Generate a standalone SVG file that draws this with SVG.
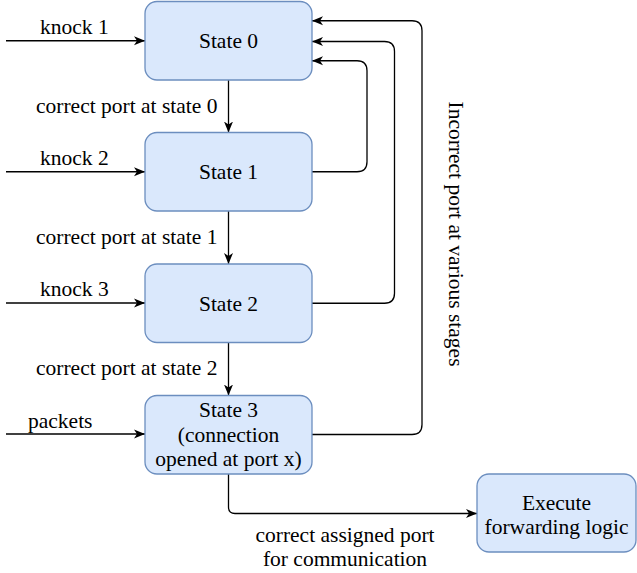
<svg xmlns="http://www.w3.org/2000/svg" width="637" height="573" viewBox="0 0 637 573">
<defs>
<marker id="arr" markerUnits="userSpaceOnUse" markerWidth="12" markerHeight="10" viewBox="0 0 12 10" refX="11" refY="5" orient="auto">
<path d="M0,0.5 L11,5 L0,9.5 L3,5 Z" fill="#000"/>
</marker>
<style>
.box{fill:#dae8fc;stroke:#6c8ebf;stroke-width:1.3}
.t{font-family:"Liberation Serif","Times New Roman",serif;font-size:21.5px;fill:#000}
.c{text-anchor:middle}
.ln{fill:none;stroke:#000;stroke-width:1.3}
.ar{marker-end:url(#arr)}
</style>
</defs>
<rect width="637" height="573" fill="#fff"/>
<g id="connectors">
<path class="ln ar" d="M6,40.75 H145"/>
<path class="ln ar" d="M6,171.75 H145"/>
<path class="ln ar" d="M6,303 H145"/>
<path class="ln ar" d="M6,434 H145"/>
<path class="ln ar" d="M228.5,80 V132.5"/>
<path class="ln ar" d="M228.5,211 V264"/>
<path class="ln ar" d="M228.5,342.5 V395.5"/>
<path class="ln ar" d="M312,171.75 H357 Q367,171.75 367,161.75 V70.75 Q367,60.75 357,60.75 H312"/>
<path class="ln ar" d="M312,303.25 H384.5 Q394.5,303.25 394.5,293.25 V51.5 Q394.5,41.5 384.5,41.5 H312"/>
<path class="ln ar" d="M312,434.5 H412 Q422,434.5 422,424.5 V30.75 Q422,20.75 412,20.75 H312"/>
<path class="ln ar" d="M228.5,474 V507 Q228.5,513.5 235,513.5 H477"/>
<text class="t" x="40" y="34.3">knock 1</text>
<text class="t" x="40" y="165">knock 2</text>
<text class="t" x="40" y="296">knock 3</text>
<text class="t" x="28" y="427.7">packets</text>
<text class="t" x="36" y="113">correct port at state 0</text>
<text class="t" x="36" y="244.3">correct port at state 1</text>
<text class="t" x="36" y="375">correct port at state 2</text>
<text class="t c" x="345" y="541.7">correct assigned port</text>
<text class="t c" x="345" y="566">for communication</text>
<text class="t c" transform="translate(449,234) rotate(90)">Incorrect port at various stages</text>
</g>
<g id="state0">
<rect class="box" x="145" y="1.5" width="167" height="78.5" rx="12"/>
<text class="t c" x="228.5" y="48.3">State 0</text>
</g>
<g id="state1">
<rect class="box" x="145" y="132.5" width="167" height="78.5" rx="12"/>
<text class="t c" x="228.5" y="179.3">State 1</text>
</g>
<g id="state2">
<rect class="box" x="145" y="264" width="167" height="78.5" rx="12"/>
<text class="t c" x="228.5" y="310.8">State 2</text>
</g>
<g id="state3">
<rect class="box" x="145" y="395.5" width="167" height="78.5" rx="12"/>
<text class="t c" x="228.5" y="416.7">State 3</text>
<text class="t c" x="228.5" y="441.5">(connection</text>
<text class="t c" x="228.5" y="465.5">opened at port x)</text>
</g>
<g id="execute">
<rect class="box" x="477" y="474" width="159" height="78" rx="12"/>
<text class="t c" x="556.5" y="510">Execute</text>
<text class="t c" x="556.5" y="533.5">forwarding logic</text>
</g>
</svg>
